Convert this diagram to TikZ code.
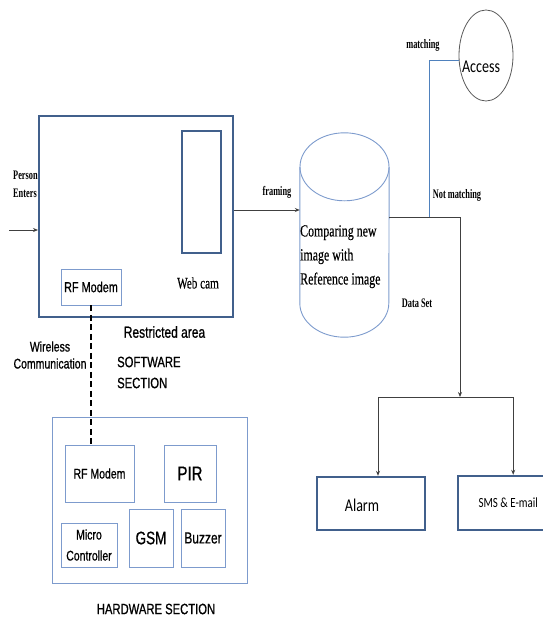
\documentclass[tikz,border=0pt]{standalone}
\usepackage{fontspec}
\setmainfont{Liberation Serif}[FakeStretch=0.7, FakeBold=0.4]
\newfontfamily\labelserif{Liberation Serif}[FakeStretch=0.64]
\newfontfamily\narrowsans{Liberation Sans}[FakeStretch=0.75, FakeBold=0.8]
\newfontfamily\calib{Carlito}[FakeStretch=0.78]
\usepackage{xcolor}
\usepackage{tikz}
\usetikzlibrary{arrows.meta,positioning,shapes.geometric}

\definecolor{boxblue}{RGB}{65,96,140}
\definecolor{thinblue}{RGB}{125,155,205}
\definecolor{linkblue}{RGB}{79,129,189}

\newcommand{\sanssz}[2]{\narrowsans\fontsize{#1}{#2}\selectfont}
\newcommand{\serifsz}[2]{\rmfamily\fontsize{#1}{#2}\selectfont}
\newcommand{\tagsz}[2]{\labelserif\bfseries\fontsize{#1}{#2}\selectfont}
\newcommand{\calibsz}[2]{\calib\fontsize{#1}{#2}\selectfont}

\tikzset{
  heavybox/.style={draw=boxblue, line width=2pt, inner sep=0pt},
  lightbox/.style={draw=thinblue, line width=0.9pt, inner sep=0pt},
  flow/.style={draw=black!75, line width=0.8pt},
  cyl/.style={draw=thinblue, line width=0.9pt},
}

\begin{document}
\begin{tikzpicture}[x=1pt, y=-1pt, >={Stealth[length=5pt,width=4pt]}]
\useasboundingbox (0,0) rectangle (543,619);

% restricted area (software side)
\node[heavybox, minimum width=194pt, minimum height=201pt] (room) at (136,216.5) {};
\node[heavybox, minimum width=39pt, minimum height=122pt] (webcam) at (201.5,192) {};
\node[lightbox, minimum width=60pt, minimum height=36pt, font=\sanssz{14.5}{16}] (rfsoft) at (91,287) {RF Modem};
\node[font=\serifsz{16}{18}] (webcamtext) at (198,283) {Web cam};
\node[font=\sanssz{16}{18}] (roomtext) at (164.5,332) {Restricted area};
\node[font=\tagsz{13}{18}, align=left, anchor=north west, inner sep=0pt] (enters) at (13,171) {Person\\Enters};
\node[font=\sanssz{14}{17}, align=center] (wireless) at (50,355) {Wireless\\Communication};
\node[font=\sanssz{15}{21}, align=left, anchor=west, inner sep=0pt] (swtext) at (117,372.5) {SOFTWARE\\SECTION};

% hardware section
\node[lightbox, minimum width=195pt, minimum height=166pt] (hw) at (149.5,500) {};
\node[lightbox, minimum width=69pt, minimum height=57pt, font=\sanssz{14}{16}] (rfhard) at (99.5,473.5) {RF Modem};
\node[lightbox, minimum width=52pt, minimum height=57pt, font=\sanssz{20}{22}] (pir) at (190,473.5) {PIR};
\node[lightbox, minimum width=56pt, minimum height=44pt, align=center, font=\sanssz{14}{21}] (mcu) at (89,545) {Micro\\Controller};
\node[lightbox, minimum width=44pt, minimum height=58pt, font=\sanssz{18}{20}] (gsm) at (151,538) {GSM};
\node[lightbox, minimum width=44pt, minimum height=58pt, font=\sanssz{16}{18}] (buzzer) at (203,538) {Buzzer};
\node[font=\sanssz{15}{18}] (hwtext) at (156,609) {HARDWARE SECTION};

% comparison with data set
\node[minimum width=89pt, minimum height=204pt, inner sep=0pt] (cmp) at (344.5,235) {};
\draw[cyl] ([yshift=-34pt]cmp.north west) -- ([yshift=34pt]cmp.south west)
  arc[start angle=180, end angle=360, x radius=44.5pt, y radius=34pt] -- ([yshift=-34pt]cmp.north east);
\draw[cyl] ([yshift=-34pt]cmp.north) ellipse[x radius=44.5pt, y radius=34pt];
\node[font=\serifsz{17}{24}, align=left, anchor=north west, inner sep=0pt] (cmptext) at (300,225) {Comparing new\\image with\\Reference image};

\node[ellipse, draw=black!65, line width=0.8pt, minimum width=54pt, minimum height=91pt, inner sep=0pt] (access) at (486,55.5) {};
\node[font=\calibsz{18}{20}] (accesstext) at (481,67) {Access};
\node[heavybox, line width=2.4pt, minimum width=108pt, minimum height=53pt] (alarm) at (371,503.5) {};
\node[font=\calibsz{18}{20}] (alarmtext) at (362,505) {Alarm};
\node[heavybox, line width=2.4pt, minimum width=100pt, minimum height=54pt, anchor=west, font=\calibsz{14}{16}] (sms) at (457,503) {SMS \& E-mail};

\node[font=\tagsz{13}{15}] (framing) at (277,192) {framing};
\node[font=\tagsz{13}{15}] (match) at (423,45) {matching};
\node[font=\tagsz{13}{15}] (nomatch) at (457,195) {Not matching};
\node[font=\tagsz{13}{15}] (dataset) at (417,303) {Data Set};

% connectors
\coordinate (enter) at (9,230);
\coordinate (out) at (389,217);
\coordinate (tap) at (429,217);
\coordinate (turn) at (460,217);
\coordinate (split) at (460,397);
\draw[->, flow] (enter) -- (enter -| room.west);
\draw[->, flow] ([yshift=6.5pt]room.east) -- ([yshift=6.5pt]room.east -| cmp.west);
\draw[flow] (out) -- (turn);
\draw[->, flow] (turn) -- (split);
\draw[->, flow] (split) -| ([xshift=7pt]alarm.north);
\draw[->, flow] (split) -| ([xshift=5pt]sms.north);
\draw[linkblue, line width=0.7pt] (tap) |- ([yshift=-4.5pt]access.west);
\draw[line width=1.8pt, dash pattern=on 6pt off 3.5pt] (rfsoft.south) -- (rfsoft.south |- rfhard.north);
\end{tikzpicture}
\end{document}
